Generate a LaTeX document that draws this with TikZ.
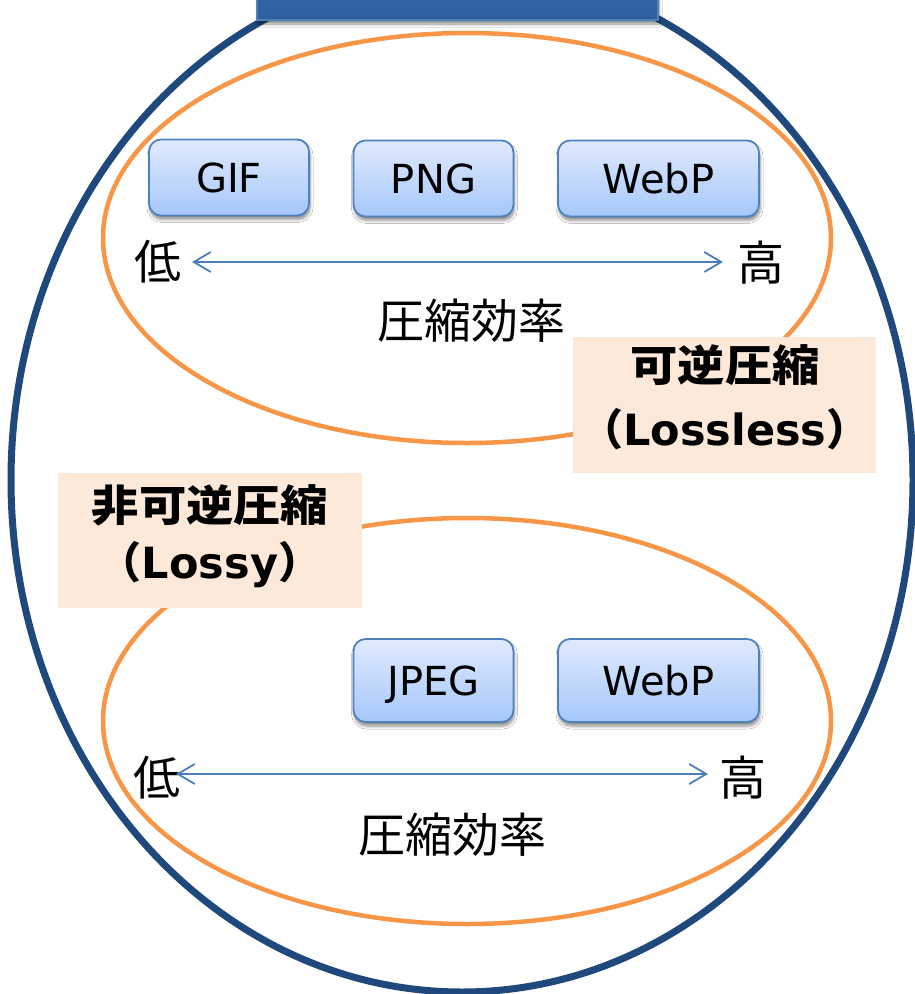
\documentclass[tikz,border=0pt]{standalone}
\usepackage{fontspec}
\setmainfont{DejaVu Sans}
\newfontfamily\jp{Noto Sans CJK JP}
\usetikzlibrary{arrows.meta,shadows.blur}

\definecolor{ringblue}{RGB}{31,73,125}
\definecolor{setorange}{RGB}{247,150,70}
\definecolor{peach}{RGB}{253,233,217}
\definecolor{boxline}{RGB}{79,129,189}
\definecolor{boxtop}{RGB}{224,234,254}
\definecolor{boxbot}{RGB}{165,199,250}
\definecolor{bartop}{RGB}{54,104,172}
\definecolor{barbot}{RGB}{46,94,156}
\definecolor{axisblue}{RGB}{74,126,187}

\begin{document}
\begin{tikzpicture}[x=1pt,y=-1pt,
  softshadow/.style={blur shadow={shadow xshift=1pt,shadow yshift=-4pt,
      shadow blur radius=3pt,shadow blur steps=6,shadow opacity=45}},
  fmtbox/.style={draw=boxline,line width=1.8pt,rounded corners=12pt,
      top color=boxtop,bottom color=boxbot,softshadow,
      minimum width=160pt,inner sep=0pt,text height=29pt,text depth=0pt,
      font=\fontsize{40}{44}\selectfont},
  wide/.style={minimum width=201pt},
  setring/.style={draw=setorange,line width=4.5pt},
  groupring/.style={draw=ringblue,line width=7pt},
  axis/.style={draw=axisblue,line width=1.8pt,
      {Straight Barb[length=17pt,width=20pt]}-{Straight Barb[length=17pt,width=20pt]}},
  jplabel/.style={font=\jp\fontsize{47}{52}\selectfont,inner sep=0pt},
  tagbox/.style={fill=peach,inner sep=0pt},
  tagtext/.style={inner sep=0pt,font=\fontsize{43}{48}\selectfont\bfseries}
]
% page background
\fill[white] (0,0) rectangle (914,994);
\useasboundingbox (0,0) rectangle (914,994);

% outer group
\draw[groupring] (462,480) ellipse [x radius=451,y radius=512];

% title bar at the top edge
\node[draw=boxline,line width=1.2pt,top color=bartop,bottom color=barbot,
      softshadow,minimum width=401pt,minimum height=40pt,inner sep=0pt]
      (bar) at (457.5,0) {};

% lossless set
\draw[setring] (467,238) ellipse [x radius=364,y radius=205];
\node[fmtbox,minimum height=76pt] (gif)   at (229,177.5) {GIF};
\node[fmtbox,minimum height=76pt] (png)   at (433.5,178.5) {PNG};
\node[fmtbox,wide,minimum height=76pt] (webp1) at (658.5,178.5) {WebP};

\node[jplabel] (lo1) at (158,262) {低};
\node[jplabel] (hi1) at (761,263) {高};
\coordinate (a1l) at (192,262);
\coordinate (a1r) at (723,262);
\draw[axis] (a1l) -- (a1r);
\node[jplabel] (eff1) at (471,321) {圧縮効率};

\node[tagbox,minimum width=303pt,minimum height=136pt] (tagA) at (724.5,405) {};
\node[tagtext] (tagA1) at (725,365) {\scalebox{1.1}[1]{\jp\bfseries 可逆圧縮}};
\node[tagtext] (tagA2) at (725,429) {{\jp （}Lossless{\jp ）}};

% lossy set
\draw[setring] (467,721) ellipse [x radius=364,y radius=203];
\node[fmtbox,minimum height=83pt] (jpeg)  at (433.5,680.5) {JPEG};
\node[fmtbox,wide,minimum height=83pt] (webp2) at (658.5,680.5) {WebP};

\node[jplabel] (lo2) at (157,778) {低};
\node[jplabel] (hi2) at (743,778) {高};
\coordinate (a2l) at (176,774);
\coordinate (a2r) at (708,774);
\draw[axis] (a2l) -- (a2r);
\node[jplabel] (eff2) at (452,835) {圧縮効率};

\node[tagbox,minimum width=304pt,minimum height=135pt] (tagB) at (210,540.5) {};
\node[tagtext] (tagB1) at (210,505) {\scalebox{1.1}[1]{\jp\bfseries 非可逆圧縮}};
\node[tagtext] (tagB2) at (210,565) {{\jp （}Lossy{\jp ）}};
\end{tikzpicture}
\end{document}
